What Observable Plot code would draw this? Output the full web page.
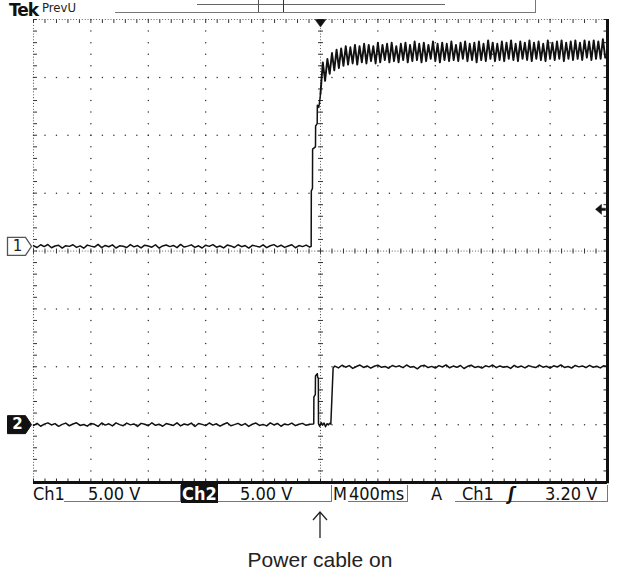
<!DOCTYPE html>
<html><head><meta charset="utf-8">
<script src="https://cdn.jsdelivr.net/npm/d3@7"></script>
<script src="https://cdn.jsdelivr.net/npm/@observablehq/plot@0.6"></script>
<style>
body{margin:0;background:#fff;}
#wrap{position:relative;width:633px;height:585px;overflow:hidden;background:#fff;}
#chart{position:absolute;left:0;top:0;}
.a{position:absolute;white-space:nowrap;}
.st{font-family:"DejaVu Sans Condensed","Liberation Sans Narrow","DejaVu Sans",sans-serif;font-size:18px;color:#111;line-height:18px;top:485px;}
.bx{position:absolute;top:485px;height:16px;border-right:1.5px solid #777;border-bottom:1.5px solid #777;}
</style></head><body><div id="wrap">
<div id="chart"></div>
<!-- header -->
<div class="a" style="left:9px;top:0px;font-family:'DejaVu Sans',sans-serif;font-weight:bold;font-size:17px;line-height:20px;color:#111;letter-spacing:-1px">Tek</div>
<div class="a" style="left:42px;top:0px;font-family:'DejaVu Sans Condensed','DejaVu Sans',sans-serif;font-size:13px;line-height:15px;color:#222">PrevU</div>
<div class="a" style="left:115px;top:-2px;width:420px;height:14px;border-right:1.5px solid #777;border-bottom:1.5px solid #777"></div>
<div class="a" style="left:197px;top:4px;width:248px;height:0;border-top:1.2px solid #666"></div>
<div class="a" style="left:258px;top:-2px;width:24px;height:14px;border-left:1.2px solid #555;border-right:1.6px solid #333"></div>
<!-- status bar -->
<div class="a st" style="left:33px">Ch1</div>
<div class="bx" style="left:64px;width:116px"></div>
<div class="a st" style="left:88px">5.00 V</div>
<div class="a st" style="left:181px;top:484px;background:#111;color:#fff;padding:0 1px;font-weight:bold;line-height:19px">Ch2</div>
<div class="bx" style="left:218px;width:113px"></div>
<div class="a st" style="left:240px">5.00 V</div>
<div class="a st" style="left:333px">M</div>
<div class="bx" style="left:348px;width:59px"></div>
<div class="a st" style="left:349px">400ms</div>
<div class="a st" style="left:431px">A</div>
<div class="bx" style="left:455px;width:152px"></div>
<div class="a st" style="left:462px">Ch1</div>
<div class="a st" style="left:508px;font-style:italic;font-weight:bold">ʃ</div>
<div class="a st" style="left:545px">3.20 V</div>
<!-- annotation -->
<svg class="a" style="left:310px;top:510px" width="20" height="30"><path d="M10,2 L10,28 M3,10 L10,2 L17,10" fill="none" stroke="#222" stroke-width="1.3"/></svg>
<div class="a" style="left:0;width:640px;top:548px;text-align:center;font-family:'Liberation Sans',Arial,sans-serif;font-size:21px;color:#222">Power cable on</div>
</div>
<script>
// ---- scope settings ----
const timePerDiv = 400;            // ms / div  (M 400ms)
const ch1VoltsPerDiv = 5;          // Ch1 5.00 V
const ch2VoltsPerDiv = 5;          // Ch2 5.00 V
const ch1Position = 0.08;          // ground marker 1, divisions
const ch2Position = -3;            // ground marker 2, divisions
const triggerLevel = 3.2;          // A Ch1 3.20 V
const triggerTime = 0;

// ---- Ch1 baseline (V), samples every 25 ms from -2000 ms ----
const baseStart = -2000, baseStep = 25;
const ch1Base = [0.05,-0.10,0.14,-0.02,0.16,-0.12,0.03,0.10,-0.15,0.06,
 0.00,0.14,-0.09,0.04,-0.16,0.11,0.02,-0.06,0.17,-0.11,
 0.08,-0.03,0.13,-0.14,0.05,0.01,-0.10,0.15,-0.04,0.07,
 -0.13,0.10,0.03,-0.07,0.14,-0.15,0.04,0.12,-0.02,0.08,
 -0.11,0.17,-0.06,0.02,0.13,-0.09,0.05,-0.14,0.10,0.00,
 0.15,-0.07,0.03,-0.13,0.11,0.04,-0.10,0.14,-0.03,0.07,
 -0.15,0.09,0.02,-0.06,0.13,-0.11,0.05,0.15,-0.04,0.10,
 -0.09,0.03,0.14,-0.12,0.07,-0.02,0.11,-0.07];
// ---- Ch1 rising edge (ms, V) ----
const ch1EdgeTimes = [-65,-64,-56,-55,-35,-34,-23,-22,-12,-5,0];
const ch1EdgeVolts = [0.0,4.8,5.0,8.4,8.6,10.4,10.6,12.2,12.0,12.6,13.2];
// ---- Ch1 rippled high level (V), samples every 16 ms from 16 ms ----
const rippleStart = 16, rippleStep = 16;
const ch1Ripple = [15.9,14.3,16.2,14.9,16.7,15.2,17.0,15.4,17.1,15.6,
 17.3,15.7,17.2,15.8,17.4,15.7,17.3,15.9,17.5,15.8,
 17.4,16.0,17.3,15.8,17.6,15.9,17.4,16.1,17.5,15.9,
 17.6,16.0,17.3,15.9,17.5,16.1,17.6,15.9,17.4,16.0,
 17.7,16.1,17.5,15.9,17.6,16.0,17.4,16.2,17.7,16.0,
 17.5,15.9,17.6,16.1,17.5,16.0,17.7,16.1,17.4,16.0,
 17.6,16.2,17.7,16.0,17.5,16.1,17.6,15.9,17.7,16.1,
 17.5,16.0,17.8,16.2,17.6,16.0,17.5,16.1,17.7,16.0,
 17.6,16.2,17.8,16.1,17.5,16.0,17.7,16.2,17.6,16.1,
 17.8,16.0,17.6,16.2,17.7,16.1,17.5,16.0,17.8,16.2,
 17.6,16.1,17.7,16.2,17.8,16.0,17.6,16.2,17.7,16.1,
 17.8,16.2,17.6,16.1,17.8,16.3,17.7,16.1,17.8,16.2,
 17.7,16.2,17.9,16.3];

// ---- Ch2 baseline (V), samples every 25 ms from -2000 ms ----
const ch2Base = [-0.08,0.11,-0.14,0.04,0.15,-0.03,0.09,-0.15,0.02,0.13,
 -0.10,0.05,0.16,-0.07,0.01,-0.13,0.10,0.03,-0.16,0.14,
 -0.04,0.07,-0.11,0.15,0.00,-0.09,0.13,-0.02,0.06,-0.15,
 0.11,0.03,-0.10,0.16,-0.06,0.04,-0.14,0.09,0.01,-0.07,
 0.15,-0.11,0.06,-0.03,0.13,-0.16,0.10,0.02,-0.09,0.14,
 -0.04,0.07,-0.13,0.03,0.16,-0.10,0.00,0.11,-0.06,0.09,
 -0.15,0.04,0.14,-0.07,0.02,-0.11,0.15,-0.03,0.10,-0.14,
 0.06,-0.02,0.13,-0.09,0.03,0.11,-0.06,0.04];
// ---- Ch2 glitch + step (ms, V) ----
const ch2EdgeTimes = [-50,-47,-46,-36,-35,-22,-20,-15,-14,-5,5,15,25,35,45,55,65,72,88];
const ch2EdgeVolts = [0.05,0.10,2.4,2.6,4.2,4.4,4.1,4.0,0.1,-0.15,0.18,-0.05,0.14,-0.18,0.08,-0.02,0.12,0.05,4.9];
// ---- Ch2 high level (V), samples every 25 ms from 100 ms ----
const highStart = 100, highStep = 25;
const ch2High = [5.06,4.90,5.13,4.96,5.10,4.86,5.02,5.15,4.94,5.07,
 4.88,5.04,5.14,4.95,5.03,4.87,5.11,4.99,5.08,4.92,
 5.15,4.96,5.02,4.82,5.07,5.12,4.93,5.03,4.89,5.10,
 4.98,5.16,4.91,5.06,4.95,5.11,4.85,5.04,5.13,4.94,
 5.02,4.88,5.08,4.99,5.15,4.92,5.07,4.96,5.03,4.86,
 5.12,4.95,5.06,4.90,5.10,5.00,4.93,5.14,4.96,5.04,
 4.88,5.08,4.98,5.16,4.94,5.02,4.89,5.11,4.99,5.07,
 4.92,5.12,4.96,5.04,4.90,5.09,5.01];

// ---- graticule ----
const divX = [-2000,-1600,-1200,-800,-400,0,400,800,1200,1600,2000];
const divY = [-4,-3,-2,-1,0,1,2,3,4];

// build tables
const ch1Low = [
  ...ch1Base.map((v,i)=>({t: baseStart + i*baseStep, v})),
  ...ch1EdgeTimes.map((t,i)=>({t, v: ch1EdgeVolts[i]}))
];
const ch1High = [
  {t: ch1EdgeTimes[ch1EdgeTimes.length-1], v: ch1EdgeVolts[ch1EdgeVolts.length-1]},
  ...ch1Ripple.map((v,i)=>({t: rippleStart + i*rippleStep, v}))
];
const ch2 = [
  ...ch2Base.map((v,i)=>({t: baseStart + i*baseStep, v})),
  ...ch2EdgeTimes.map((t,i)=>({t, v: ch2EdgeVolts[i]})),
  ...ch2High.map((v,i)=>({t: highStart + i*highStep, v}))
];

const minorX = d3.range(-2000, 2000.1, timePerDiv/5);
const minorY = d3.range(-4, 4.001, 0.2);
const fineX = d3.range(-2000, 2000.1, timePerDiv/20);
const fineY = d3.range(-4, 4.001, 0.05);
const innerX = divX.filter(x => x !== 0 && Math.abs(x) !== 2000);
const innerY = divY.filter(y => y !== 0 && Math.abs(y) !== 4);
const gridDots = [
  ...innerX.flatMap(x => minorY.map(y => ({x, y}))),
  ...innerY.flatMap(y => minorX.map(x => ({x, y})))
];
const fineDots = [
  ...fineY.map(y => ({x: 0, y})),
  ...fineX.map(x => ({x, y: 0})),
  ...fineY.map(y => ({x: -2000, y})),
  ...fineX.map(x => ({x, y: 4}))
];

// custom symbols
const seg = (x1,y1,x2,y2) => ({draw(c){ c.moveTo(x1,y1); c.lineTo(x2,y2); }});
const hTickC = seg(-2.5,0,2.5,0), vTickC = seg(0,-2.5,0,2.5);
const tickRight = seg(0,0,3.5,0), tickLeft = seg(0,0,-4,0);
const tickDown = seg(0,0,0,3.5), tickUp = seg(0,0,0,-4);
const pointer = {draw(c){ c.moveTo(0,0); c.lineTo(-6,-9); c.lineTo(-24,-9); c.lineTo(-24,9); c.lineTo(-6,9); c.closePath(); }};
const trigDown = {draw(c){ c.moveTo(-5.5,0); c.lineTo(5.5,0); c.lineTo(0,7.5); c.closePath(); }};
const levelArrow = {draw(c){ c.moveTo(-1,-1.2); c.lineTo(-5,-1.2); c.lineTo(-5,-5); c.lineTo(-11,0); c.lineTo(-5,5); c.lineTo(-5,1.2); c.lineTo(-1,1.2); c.closePath(); }};

const y1 = d => ch1Position + d.v / ch1VoltsPerDiv;
const y2 = d => ch2Position + d.v / ch2VoltsPerDiv;

const plot = Plot.plot({
  width: 633, height: 500,
  marginTop: 19, marginBottom: 18, marginLeft: 33, marginRight: 26,
  x: {domain: [-2000, 2000], axis: null},
  y: {domain: [-4, 4], axis: null},
  style: {background: "#fff", overflow: "visible"},
  marks: [
    Plot.dot(gridDots, {x: "x", y: "y", r: 0.75, fill: "#333", stroke: "none"}),
    Plot.dot(fineDots, {x: "x", y: "y", r: 0.55, fill: "#444", stroke: "none"}),
    // ticks on centre cross
    Plot.dot(minorY, {x: 0, y: d => d, symbol: hTickC, stroke: "#333", strokeWidth: 1}),
    Plot.dot(minorX, {x: d => d, y: 0, symbol: vTickC, stroke: "#333", strokeWidth: 1}),
    // edges
    Plot.dot(minorY, {x: -2000, y: d => d, symbol: tickRight, stroke: "#333", strokeWidth: 1}),
    Plot.dot(minorX, {x: d => d, y: 4, symbol: tickDown, stroke: "#333", strokeWidth: 1}),
    Plot.dot(minorY, {x: 2000, y: d => d, symbol: tickLeft, stroke: "#222", strokeWidth: 1}),
    Plot.dot(minorX, {x: d => d, y: -4, symbol: tickUp, stroke: "#222", strokeWidth: 1}),
    Plot.ruleX([2000], {y1: -4.02, y2: 4, stroke: "#111", strokeWidth: 3}),
    Plot.ruleY([-4], {x1: -2000, x2: 2000, stroke: "#111", strokeWidth: 3}),
    // traces
    Plot.line(ch1Low, {x: "t", y: y1, stroke: "#111", strokeWidth: 1.5, curve: "linear"}),
    Plot.line(ch1High, {x: "t", y: y1, stroke: "#111", strokeWidth: 1.9, curve: "linear"}),
    Plot.line(ch2, {x: "t", y: y2, stroke: "#111", strokeWidth: 1.5, curve: "linear"}),
    // markers
    Plot.dot([ch1Position], {x: -2000, y: d => d, symbol: pointer, fill: "#fff", stroke: "#555", strokeWidth: 1.3, dx: -2}),
    Plot.text([ch1Position], {x: -2000, y: d => d, text: () => "1", dx: -16, fontSize: 15, fill: "#222", fontFamily: "DejaVu Sans, sans-serif"}),
    Plot.dot([ch2Position], {x: -2000, y: d => d, symbol: pointer, fill: "#111", stroke: "#111", strokeWidth: 1, dx: -2}),
    Plot.text([ch2Position], {x: -2000, y: d => d, text: () => "2", dx: -16, fontSize: 15, fontWeight: "bold", fill: "#fff", fontFamily: "DejaVu Sans, sans-serif"}),
    Plot.dot([triggerTime], {x: d => d, y: 4, symbol: trigDown, fill: "#111", stroke: "#111", strokeWidth: 0.5}),
    Plot.dot([triggerLevel], {x: 2000, y: d => ch1Position + d / ch1VoltsPerDiv, symbol: levelArrow, fill: "#111", stroke: "#111", strokeWidth: 0.5, dx: -1})
  ]
});
document.getElementById("chart").appendChild(plot);
</script>
</body></html>
